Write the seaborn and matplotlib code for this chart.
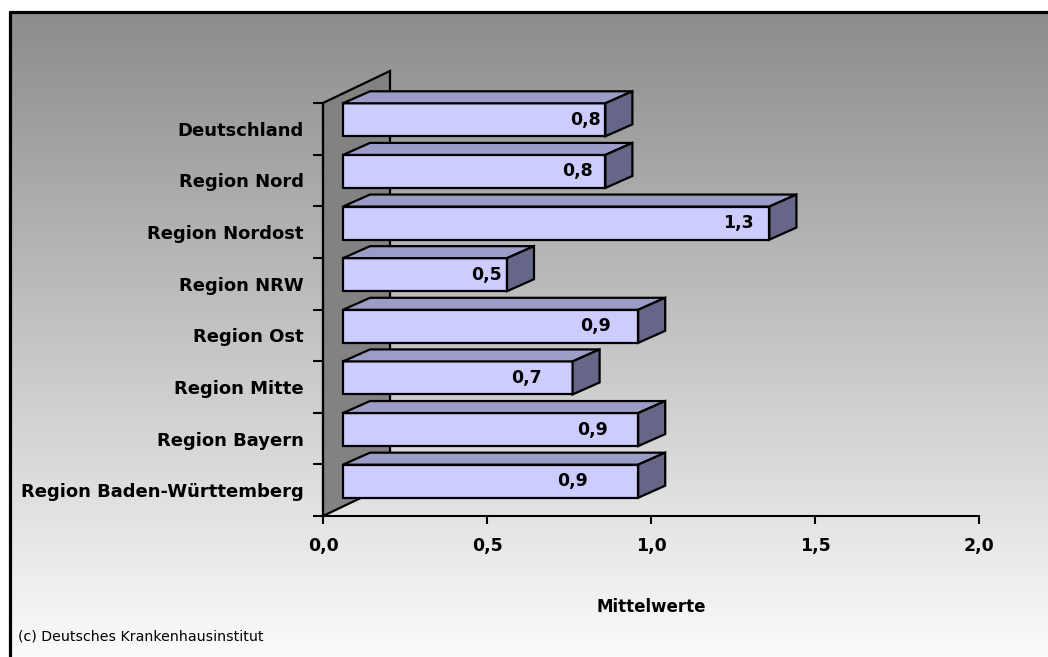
import numpy as np
import pandas as pd
import matplotlib
matplotlib.use("Agg")
import matplotlib.pyplot as plt
import seaborn as sns
from matplotlib.patches import Polygon
from matplotlib.lines import Line2D
from matplotlib.transforms import ScaledTranslation, IdentityTransform

# ---- data -------------------------------------------------------------
regions = [
    "Deutschland",
    "Region Nord",
    "Region Nordost",
    "Region NRW",
    "Region Ost",
    "Region Mitte",
    "Region Bayern",
    "Region Baden-Württemberg",
]
mittelwerte = [0.8, 0.8, 1.3, 0.5, 0.9, 0.7, 0.9, 0.9]
x_ticks = [0.0, 0.5, 1.0, 1.5, 2.0]
x_tick_labels = ["0,0", "0,5", "1,0", "1,5", "2,0"]
x_title = "Mittelwerte"
credit = "(c) Deutsches Krankenhausinstitut"

# ---- layout / style ---------------------------------------------------
W, H, DPI = 1048, 657, 100
FRONT_SHIFT = (20, 9)      # px: bars sit in the middle of the depth
BAR_DEPTH = (27, 12)       # px: depth of each bar
WALL_DEPTH = (67, 32)      # px: depth of the back wall
label_inset_px = [5, 13, 16, 5, 27, 31, 30, 50]

FRONT = "#CCCCFF"
TOP = "#9C9CC8"
SIDE = "#666688"
WALL = "#828282"

sns.set_theme(style="white")
plt.rcParams["font.family"] = ["DejaVu Sans"]
plt.rcParams.update({
    "text.color": "black",
    "axes.labelcolor": "black",
    "xtick.color": "black",
    "ytick.color": "black",
})

fig = plt.figure(figsize=(W / DPI, H / DPI), dpi=DPI)
fig.patch.set_facecolor("white")

# background panel with vertical grey gradient and a black frame edge
bg = fig.add_axes([0, 0, 1, 1], zorder=0)
bg.set_xlim(0, W)
bg.set_ylim(H, 0)
bg.axis("off")
shade = np.linspace(0.55, 0.985, 256).reshape(-1, 1)
bg.imshow(np.dstack([shade, shade, shade]), extent=(11, W, H, 13),
          aspect="auto", interpolation="bicubic")
bg.add_line(Line2D([10, W], [12, 12], color="black", lw=2.3))
bg.add_line(Line2D([10, 10], [12, H], color="black", lw=2.3))
bg.text(18, 636, credit, fontsize=10.2, va="center", ha="left", color="black")

# main plotting area
ax = fig.add_axes([323 / W, (H - 516) / H, 656 / W, 413 / H], zorder=2)
ax.patch.set_alpha(0)

df = pd.DataFrame({"Region": regions, "Mittelwert": mittelwerte})
sns.barplot(data=df, x="Mittelwert", y="Region", orient="h", ax=ax,
            color=FRONT, saturation=1, width=0.64, edgecolor="black",
            linewidth=1.6, zorder=4)

ax.set_xlim(0, 2)
ax.set_ylim(len(regions) - 0.5, -0.5)

shift = ScaledTranslation(FRONT_SHIFT[0] / DPI, FRONT_SHIFT[1] / DPI,
                          fig.dpi_scale_trans)
ident = IdentityTransform()

# back wall along the category axis
p_bot = ax.transData.transform((0, len(regions) - 0.5))
p_top = ax.transData.transform((0, -0.5))
wall = np.array([p_bot, p_top,
                 p_top + WALL_DEPTH, p_bot + WALL_DEPTH])
fig.add_artist(Polygon(wall, closed=True, facecolor=WALL, edgecolor="black",
                       lw=1.6, transform=ident, zorder=1.5))

# shift the front faces and add top / side faces for each bar
for i, patch in enumerate(ax.patches):
    patch.set_transform(ax.transData + shift)
    patch.set_clip_on(False)
    x0, y0 = patch.get_x(), patch.get_y()
    w, h = patch.get_width(), patch.get_height()
    (xl, yb), (xr, yt) = ax.transData.transform([(x0, y0 + h), (x0 + w, y0)])
    xl += FRONT_SHIFT[0]; xr += FRONT_SHIFT[0]
    yb += FRONT_SHIFT[1]; yt += FRONT_SHIFT[1]
    dx, dy = BAR_DEPTH
    top = [(xl, yt), (xr, yt), (xr + dx, yt + dy), (xl + dx, yt + dy)]
    side = [(xr, yb), (xr, yt), (xr + dx, yt + dy), (xr + dx, yb + dy)]
    for pts, col in ((top, TOP), (side, SIDE)):
        fig.add_artist(Polygon(pts, closed=True, facecolor=col,
                               edgecolor="black", lw=1.6, transform=ident,
                               zorder=3, joinstyle="miter"))

# value labels inside the front faces
for i, v in enumerate(mittelwerte):
    off = ScaledTranslation((FRONT_SHIFT[0] - label_inset_px[i]) / DPI,
                            FRONT_SHIFT[1] / DPI, fig.dpi_scale_trans)
    ax.text(v, i, f"{v:.1f}".replace(".", ","), transform=ax.transData + off,
            ha="right", va="center", fontsize=12.5, fontweight="bold",
            color="black", zorder=6, clip_on=False)

# axes styling
for side_name in ("top", "right"):
    ax.spines[side_name].set_visible(False)
for side_name in ("left", "bottom"):
    ax.spines[side_name].set_color("black")
    ax.spines[side_name].set_linewidth(1.5)
    ax.spines[side_name].set_zorder(2.5)

ax.set_xticks(x_ticks, x_tick_labels)
ax.tick_params(axis="x", direction="out", length=6, width=1.5, color="black",
               pad=9, labelsize=12.5, bottom=True, labelcolor="black")
for lab in ax.get_xticklabels():
    lab.set_fontweight("bold")

ax.set_yticks(range(len(regions)), regions)
ax.set_yticks(np.arange(-0.5, len(regions), 1.0), minor=True)
ax.tick_params(axis="y", which="major", length=0, pad=14, labelsize=13,
               left=True, labelcolor="black")
ax.tick_params(axis="y", which="minor", direction="out", length=7.5,
               width=1.5, color="black", left=True)
for lab in ax.get_yticklabels():
    lab.set_fontweight("bold")

ax.set_ylabel("")
ax.set_xlabel(x_title, fontsize=12, fontweight="bold", va="center",
              color="black")
ax.xaxis.set_label_coords(0.5, -(607 - 516) / 413)
ax.grid(False)

fig.savefig("out.png", dpi=DPI, facecolor="white")
